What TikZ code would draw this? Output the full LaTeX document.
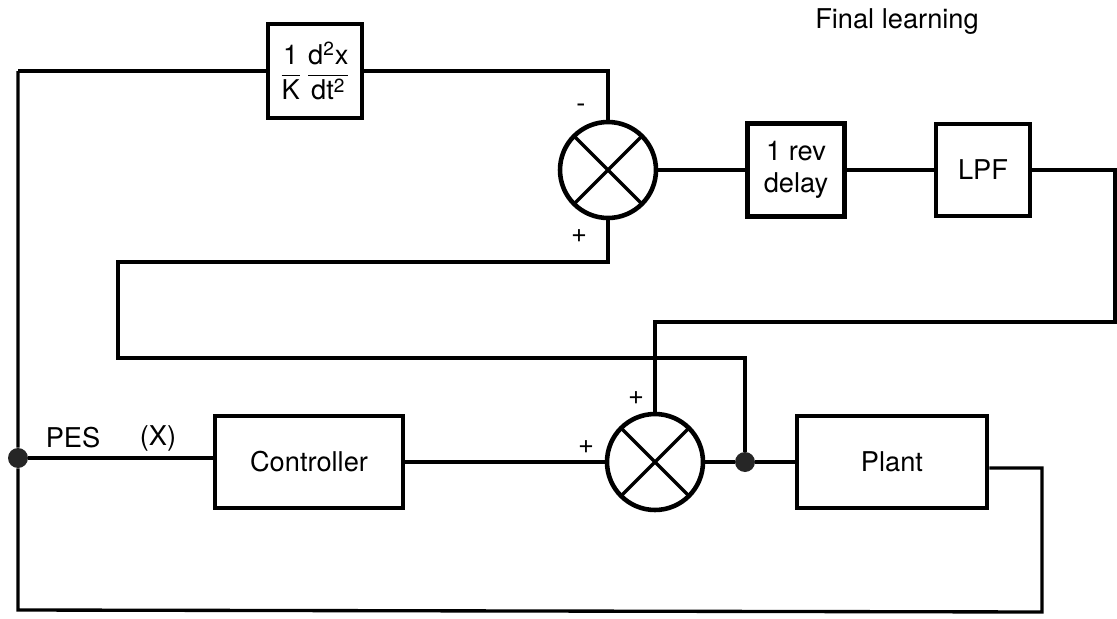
\documentclass[tikz,border=0pt]{standalone}
\usepackage{fontspec}
\setmainfont{TeX Gyre Heros}
\setsansfont{TeX Gyre Heros}
\usetikzlibrary{positioning,calc}
\tikzset{
  blk/.style={draw,rectangle,line width=2.6pt,align=center,
              font=\fontsize{15.5}{18.5}\selectfont},
  sumj/.style={draw,circle,line width=2.6pt,minimum size=1.92cm,inner sep=0pt,
               path picture={\draw[line width=1.9pt]
                 (path picture bounding box.south west) -- (path picture bounding box.north east)
                 (path picture bounding box.north west) -- (path picture bounding box.south east);}},
  wire/.style={line width=1.9pt},
  jdot/.style={circle,fill=black!85,inner sep=0pt,minimum size=0.4cm},
  lbl/.style={font=\fontsize{15.5}{18.5}\selectfont},
}
\begin{document}
\begin{tikzpicture}[x=0.02cm,y=-0.02cm]
  \useasboundingbox (0,0) rectangle (1117,619);
  % blocks
  \node[blk,minimum width=1.88cm,minimum height=1.88cm] (deriv) at (315,71)
       {$\displaystyle\frac{\mathsf{1}}{\mathsf{K}}\,\frac{\mathsf{d^2x}}{\mathsf{dt^2}}$};
  \node[sumj] (sumA) at (608,170) {};
  \node[blk,minimum width=1.94cm,minimum height=1.86cm] (delay) at (796,170) {1 rev\\delay};
  \node[blk,minimum width=1.88cm,minimum height=1.84cm] (lpf) at (983,170) {LPF};
  \node[blk,minimum width=3.76cm,minimum height=1.84cm] (ctrl) at (309,462) {Controller};
  \node[sumj] (sumB) at (655,462) {};
  \node[jdot] (jB) at (745,462) {};
  \node[blk,minimum width=3.8cm,minimum height=1.84cm] (plant) at (892,462) {Plant};
  \node[jdot] (jA) at (18,458) {};

  % bend points
  \coordinate (tl) at (18,71);
  \coordinate (er1) at (1115,170);
  \coordinate (er2) at (1115,322);
  \coordinate (fb) at (655,322);
  \coordinate (lpA) at (608,262);
  \coordinate (lpB) at (118,262);
  \coordinate (lpC) at (118,358);
  \coordinate (lpD) at (745,358);
  \coordinate (rb1) at (1042,468);
  \coordinate (rb2) at (1042,612);
  \coordinate (lb) at (18,610);

  % connectors
  \draw[wire] (tl) -- (deriv.west);
  \draw[wire] (deriv.east) -| (sumA.north);
  \draw[wire] (sumA.east) -- (delay.west);
  \draw[wire] (delay.east) -- (lpf.west);
  \draw[wire] (lpf.east) -- (er1) -- (er2) -- (fb) -- (sumB.north);
  \draw[wire] (sumA.south) -- (lpA) -- (lpB) -- (lpC) -- (lpD) -- (jB);
  \draw[wire] (jA) -- (jA -| ctrl.west);
  \draw[wire] (ctrl.east) -- (sumB.west);
  \draw[wire] (sumB.east) -- (jB) -- (plant.west);
  \draw[wire] (plant.east |- rb1) -- (rb1) -- (rb2) -- (lb) -- (jA) -- (tl);

  % labels
  \node[lbl] (signA) at (581,108) {-};
  \node[lbl] (signB) at (579,236) {+};
  \node[lbl] (signC) at (636,398) {+};
  \node[lbl] (signD) at (586,447) {+};
  \node[lbl] (pes) at (73,438) {PES};
  \node[lbl] (xsig) at (158,438) {(X)};
  \node[lbl] (title) at (897,22) {Final learning};
\end{tikzpicture}
\end{document}
